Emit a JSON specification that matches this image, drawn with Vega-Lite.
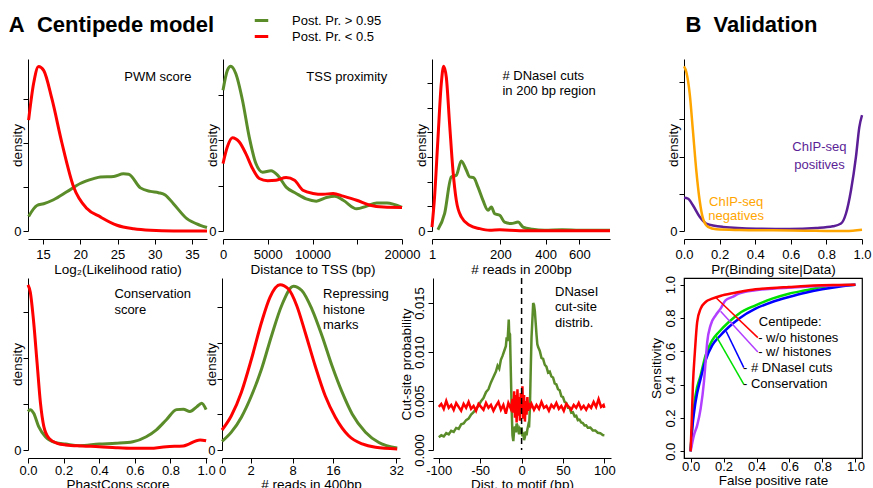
{
"$schema":"https://vega.github.io/schema/vega-lite/v6.json",
"background":"white",
"padding":{"left":8,"top":12,"right":0,"bottom":0},
"config":{
 "font":"Liberation Sans",
 "view":{"stroke":null},
 "axis":{"grid":false,"domainColor":"#000","domainWidth":1,"tickColor":"#000","tickWidth":1,"tickSize":5,"labelColor":"#000","labelFontSize":13,"labelFont":"Liberation Sans","titleFont":"Liberation Sans","titleFontSize":13.5,"titleFontWeight":"normal","titleColor":"#000","labelOverlap":false,"labelFlush":false,"labelBound":false},
 "axisX":{"offset":8,"labelPadding":4,"titlePadding":1},
 "axisY":{"labelPadding":2,"titlePadding":-11},
 "title":{"font":"Liberation Sans","fontSize":22,"fontWeight":"bold","anchor":"start","color":"#000"},
 "text":{"font":"Liberation Sans","fontSize":13,"color":"#000"}
},
"datasets":{
 "pwm":[
  {"s":"hi","x":13.08,"y":0.33},{"s":"hi","x":14.2,"y":0.58},{"s":"hi","x":15.1,"y":0.62},{"s":"hi","x":16.43,"y":0.71},{"s":"hi","x":18.2,"y":0.89},{"s":"hi","x":20.0,"y":1.08},{"s":"hi","x":21.8,"y":1.19},{"s":"hi","x":22.7,"y":1.23},{"s":"hi","x":24.5,"y":1.24},{"s":"hi","x":25.8,"y":1.30},{"s":"hi","x":26.5,"y":1.29},{"s":"hi","x":28.07,"y":0.98},{"s":"hi","x":29.4,"y":0.90},{"s":"hi","x":30.5,"y":0.87},{"s":"hi","x":31.4,"y":0.82},{"s":"hi","x":32.5,"y":0.62},{"s":"hi","x":34.3,"y":0.28},{"s":"hi","x":36.1,"y":0.13},{"s":"hi","x":37.0,"y":0.08},
  {"s":"lo","x":13.08,"y":2.52},{"s":"lo","x":13.75,"y":3.35},{"s":"lo","x":14.42,"y":3.74},{"s":"lo","x":15.1,"y":3.65},{"s":"lo","x":16.21,"y":3.0},{"s":"lo","x":17.55,"y":2.0},{"s":"lo","x":19.12,"y":1.0},{"s":"lo","x":20.9,"y":0.51},{"s":"lo","x":22.7,"y":0.32},{"s":"lo","x":24.93,"y":0.13},{"s":"lo","x":27.17,"y":0.05},{"s":"lo","x":29.4,"y":0.015},{"s":"lo","x":32.5,"y":0.0},{"s":"lo","x":37.0,"y":0.0}
 ],
 "tss":[
  {"s":"hi","x":0,"y":3.11},{"s":"hi","x":488,"y":3.55},{"s":"hi","x":863,"y":3.64},{"s":"hi","x":1426,"y":3.48},{"s":"hi","x":2176,"y":2.89},{"s":"hi","x":2927,"y":2.08},{"s":"hi","x":3677,"y":1.49},{"s":"hi","x":4427,"y":1.30},{"s":"hi","x":5365,"y":1.33},{"s":"hi","x":6116,"y":1.23},{"s":"hi","x":7054,"y":0.97},{"s":"hi","x":8179,"y":0.83},{"s":"hi","x":9305,"y":0.71},{"s":"hi","x":10430,"y":0.66},{"s":"hi","x":11556,"y":0.74},{"s":"hi","x":12494,"y":0.77},{"s":"hi","x":13432,"y":0.68},{"s":"hi","x":14933,"y":0.49},{"s":"hi","x":16059,"y":0.55},{"s":"hi","x":17185,"y":0.62},{"s":"hi","x":18310,"y":0.62},{"s":"hi","x":20000,"y":0.52},
  {"s":"lo","x":0,"y":1.49},{"s":"lo","x":488,"y":1.86},{"s":"lo","x":1051,"y":2.06},{"s":"lo","x":1801,"y":1.97},{"s":"lo","x":2551,"y":1.71},{"s":"lo","x":3302,"y":1.38},{"s":"lo","x":4052,"y":1.16},{"s":"lo","x":4990,"y":1.11},{"s":"lo","x":5928,"y":1.12},{"s":"lo","x":7054,"y":1.18},{"s":"lo","x":7992,"y":1.12},{"s":"lo","x":8930,"y":0.90},{"s":"lo","x":10055,"y":0.83},{"s":"lo","x":11181,"y":0.81},{"s":"lo","x":12307,"y":0.83},{"s":"lo","x":13432,"y":0.77},{"s":"lo","x":14933,"y":0.68},{"s":"lo","x":16434,"y":0.57},{"s":"lo","x":17935,"y":0.53},{"s":"lo","x":20000,"y":0.52}
 ],
 "dnase":[
  {"s":"hi","x":14.4,"y":0.05},{"s":"hi","x":30.5,"y":0.70},{"s":"hi","x":47.4,"y":2.19},{"s":"hi","x":60.6,"y":2.26},{"s":"hi","x":74.2,"y":2.84},{"s":"hi","x":88.6,"y":2.46},{"s":"hi","x":98.1,"y":2.19},{"s":"hi","x":110,"y":2.16},{"s":"hi","x":123.7,"y":1.78},{"s":"hi","x":139.7,"y":1.24},{"s":"hi","x":156.6,"y":0.84},{"s":"hi","x":168,"y":0.97},{"s":"hi","x":179.7,"y":0.70},{"s":"hi","x":198,"y":0.64},{"s":"hi","x":216,"y":0.36},{"s":"hi","x":242,"y":0.30},{"s":"hi","x":271,"y":0.36},{"s":"hi","x":292,"y":0.16},{"s":"hi","x":335,"y":0.07},{"s":"hi","x":395,"y":0.03},{"s":"hi","x":492,"y":0.05},{"s":"hi","x":604,"y":0.03},{"s":"hi","x":830,"y":0.03},
  {"s":"lo","x":1,"y":0.16},{"s":"lo","x":6.8,"y":1.38},{"s":"lo","x":14.4,"y":3.68},{"s":"lo","x":22.5,"y":5.97},{"s":"lo","x":28.1,"y":6.68},{"s":"lo","x":34.7,"y":6.24},{"s":"lo","x":43,"y":4.35},{"s":"lo","x":51.7,"y":2.46},{"s":"lo","x":60.6,"y":1.24},{"s":"lo","x":74.2,"y":0.57},{"s":"lo","x":98.1,"y":0.23},{"s":"lo","x":129,"y":0.095},{"s":"lo","x":162,"y":0.03},{"s":"lo","x":198,"y":0.05},{"s":"lo","x":278,"y":0.01},{"s":"lo","x":400,"y":0.01},{"s":"lo","x":600,"y":0.01},{"s":"lo","x":830,"y":0.01}
 ],
 "pb1":[
  {"s":"pos","x":0,"y":0.89},{"s":"pos","x":0.022,"y":0.87},{"s":"pos","x":0.05,"y":0.69},{"s":"pos","x":0.088,"y":0.38},{"s":"pos","x":0.125,"y":0.2},{"s":"pos","x":0.219,"y":0.11},{"s":"pos","x":0.406,"y":0.063},{"s":"pos","x":0.593,"y":0.054},{"s":"pos","x":0.742,"y":0.08},{"s":"pos","x":0.836,"y":0.125},{"s":"pos","x":0.882,"y":0.2},{"s":"pos","x":0.91,"y":0.47},{"s":"pos","x":0.938,"y":1.09},{"s":"pos","x":0.966,"y":1.99},{"s":"pos","x":0.985,"y":2.79},{"s":"pos","x":1.0,"y":3.11},
  {"s":"neg","x":0,"y":4.42},{"s":"neg","x":0.013,"y":4.27},{"s":"neg","x":0.032,"y":3.69},{"s":"neg","x":0.05,"y":2.70},{"s":"neg","x":0.069,"y":1.63},{"s":"neg","x":0.088,"y":0.82},{"s":"neg","x":0.107,"y":0.33},{"s":"neg","x":0.135,"y":0.11},{"s":"neg","x":0.181,"y":0.045},{"s":"neg","x":0.312,"y":0.027},{"s":"neg","x":0.499,"y":0.018},{"s":"neg","x":0.686,"y":0.009},{"s":"neg","x":0.836,"y":0.0},{"s":"neg","x":0.91,"y":0.0},{"s":"neg","x":1.0,"y":0.036}
 ],
 "cons":[
  {"s":"hi","x":0,"y":0.84},{"s":"hi","x":0.013,"y":0.88},{"s":"hi","x":0.032,"y":0.80},{"s":"hi","x":0.06,"y":0.51},{"s":"hi","x":0.098,"y":0.29},{"s":"hi","x":0.155,"y":0.16},{"s":"hi","x":0.211,"y":0.13},{"s":"hi","x":0.287,"y":0.095},{"s":"hi","x":0.4,"y":0.13},{"s":"hi","x":0.494,"y":0.146},{"s":"hi","x":0.589,"y":0.18},{"s":"hi","x":0.664,"y":0.29},{"s":"hi","x":0.721,"y":0.44},{"s":"hi","x":0.777,"y":0.66},{"s":"hi","x":0.834,"y":0.88},{"s":"hi","x":0.872,"y":0.89},{"s":"hi","x":0.909,"y":0.84},{"s":"hi","x":0.947,"y":0.94},{"s":"hi","x":0.975,"y":1.02},{"s":"hi","x":1.0,"y":0.88},
  {"s":"lo","x":0,"y":3.60},{"s":"lo","x":0.013,"y":3.44},{"s":"lo","x":0.032,"y":2.78},{"s":"lo","x":0.051,"y":1.90},{"s":"lo","x":0.07,"y":1.02},{"s":"lo","x":0.089,"y":0.51},{"s":"lo","x":0.117,"y":0.26},{"s":"lo","x":0.164,"y":0.146},{"s":"lo","x":0.211,"y":0.11},{"s":"lo","x":0.306,"y":0.088},{"s":"lo","x":0.4,"y":0.073},{"s":"lo","x":0.494,"y":0.05},{"s":"lo","x":0.589,"y":0.037},{"s":"lo","x":0.683,"y":0.037},{"s":"lo","x":0.777,"y":0.073},{"s":"lo","x":0.872,"y":0.088},{"s":"lo","x":0.966,"y":0.22},{"s":"lo","x":1.0,"y":0.2}
 ],
 "hist":[
  {"s":"hi","x":0,"y":0.24},{"s":"hi","x":0.355,"y":0.50},{"s":"hi","x":1.094,"y":0.92},{"s":"hi","x":2.08,"y":1.52},{"s":"hi","x":3.27,"y":2.27},{"s":"hi","x":4.64,"y":3.21},{"s":"hi","x":6.16,"y":4.05},{"s":"hi","x":8.12,"y":4.59},{"s":"hi","x":9.63,"y":4.47},{"s":"hi","x":11.57,"y":3.95},{"s":"hi","x":13.61,"y":3.21},{"s":"hi","x":15.79,"y":2.36},{"s":"hi","x":18.07,"y":1.62},{"s":"hi","x":20.45,"y":1.01},{"s":"hi","x":23.76,"y":0.50},{"s":"hi","x":27.25,"y":0.21},{"s":"hi","x":32.3,"y":0.056},
  {"s":"lo","x":0,"y":0.56},{"s":"lo","x":0.355,"y":0.96},{"s":"lo","x":1.094,"y":1.62},{"s":"lo","x":2.08,"y":2.55},{"s":"lo","x":3.27,"y":3.58},{"s":"lo","x":4.40,"y":4.28},{"s":"lo","x":5.90,"y":4.63},{"s":"lo","x":7.27,"y":4.51},{"s":"lo","x":8.70,"y":4.05},{"s":"lo","x":10.26,"y":3.30},{"s":"lo","x":12.22,"y":2.36},{"s":"lo","x":14.31,"y":1.52},{"s":"lo","x":16.53,"y":0.92},{"s":"lo","x":19.61,"y":0.40},{"s":"lo","x":22.93,"y":0.17},{"s":"lo","x":26.37,"y":0.075},{"s":"lo","x":32.3,"y":0.03}
 ],
 "cut":[
  {"s":"hi","x":-100,"y":0.00130},{"s":"hi","x":-97,"y":0.00150},{"s":"hi","x":-94,"y":0.00138},{"s":"hi","x":-91,"y":0.00172},{"s":"hi","x":-88,"y":0.00160},{"s":"hi","x":-85,"y":0.00195},{"s":"hi","x":-82,"y":0.00185},{"s":"hi","x":-79,"y":0.00225},{"s":"hi","x":-76,"y":0.00215},{"s":"hi","x":-73,"y":0.00262},{"s":"hi","x":-70,"y":0.00270},{"s":"hi","x":-67,"y":0.00305},{"s":"hi","x":-64,"y":0.00320},{"s":"hi","x":-61,"y":0.00362},{"s":"hi","x":-58,"y":0.00385},{"s":"hi","x":-55,"y":0.00420},{"s":"hi","x":-52,"y":0.00452},{"s":"hi","x":-49,"y":0.00498},{"s":"hi","x":-46,"y":0.00530},{"s":"hi","x":-43,"y":0.00590},{"s":"hi","x":-40,"y":0.00620},{"s":"hi","x":-37,"y":0.00690},{"s":"hi","x":-34,"y":0.00745},{"s":"hi","x":-31,"y":0.00800},{"s":"hi","x":-29,"y":0.00860},{"s":"hi","x":-27,"y":0.00830},{"s":"hi","x":-25,"y":0.00920},{"s":"hi","x":-23,"y":0.00960},{"s":"hi","x":-21,"y":0.01010},{"s":"hi","x":-19,"y":0.01060},{"s":"hi","x":-18,"y":0.01150},{"s":"hi","x":-17,"y":0.01110},{"s":"hi","x":-16,"y":0.01250},{"s":"hi","x":-15.5,"y":0.01330},{"s":"hi","x":-15,"y":0.01200},{"s":"hi","x":-14,"y":0.01180},{"s":"hi","x":-13,"y":0.00800},{"s":"hi","x":-12,"y":0.00420},{"s":"hi","x":-11,"y":0.00150},{"s":"hi","x":-10,"y":0.00090},{"s":"hi","x":-9,"y":0.00200},{"s":"hi","x":-8,"y":0.00240},{"s":"hi","x":-7,"y":0.00180},{"s":"hi","x":-6,"y":0.00270},{"s":"hi","x":-5,"y":0.00250},{"s":"hi","x":-4,"y":0.00200},{"s":"hi","x":-3,"y":0.00160},{"s":"hi","x":-2,"y":0.00210},{"s":"hi","x":-1,"y":0.00190},{"s":"hi","x":0,"y":0.00230},{"s":"hi","x":1,"y":0.00140},{"s":"hi","x":2,"y":0.00180},{"s":"hi","x":3,"y":0.00100},{"s":"hi","x":4,"y":0.00130},{"s":"hi","x":5,"y":0.00190},{"s":"hi","x":6,"y":0.00150},{"s":"hi","x":7,"y":0.00210},{"s":"hi","x":8,"y":0.00250},{"s":"hi","x":9,"y":0.00230},{"s":"hi","x":10,"y":0.00420},{"s":"hi","x":11,"y":0.00800},{"s":"hi","x":12,"y":0.01150},{"s":"hi","x":13,"y":0.01320},{"s":"hi","x":14,"y":0.01500},{"s":"hi","x":15,"y":0.01480},{"s":"hi","x":16,"y":0.01420},{"s":"hi","x":17,"y":0.01300},{"s":"hi","x":18,"y":0.01180},{"s":"hi","x":19,"y":0.01080},{"s":"hi","x":20,"y":0.01050},{"s":"hi","x":22,"y":0.01010},{"s":"hi","x":24,"y":0.00940},{"s":"hi","x":26,"y":0.00930},{"s":"hi","x":28,"y":0.00870},{"s":"hi","x":30,"y":0.00850},{"s":"hi","x":32,"y":0.00790},{"s":"hi","x":34,"y":0.00800},{"s":"hi","x":36,"y":0.00750},{"s":"hi","x":38,"y":0.00740},{"s":"hi","x":40,"y":0.00680},{"s":"hi","x":42,"y":0.00670},{"s":"hi","x":44,"y":0.00620},{"s":"hi","x":46,"y":0.00610},{"s":"hi","x":48,"y":0.00550},{"s":"hi","x":50,"y":0.00540},{"s":"hi","x":52,"y":0.00490},{"s":"hi","x":54,"y":0.00480},{"s":"hi","x":56,"y":0.00430},{"s":"hi","x":58,"y":0.00430},{"s":"hi","x":60,"y":0.00380},{"s":"hi","x":62,"y":0.00385},{"s":"hi","x":64,"y":0.00345},{"s":"hi","x":66,"y":0.00350},{"s":"hi","x":68,"y":0.00305},{"s":"hi","x":70,"y":0.00310},{"s":"hi","x":72,"y":0.00280},{"s":"hi","x":74,"y":0.00275},{"s":"hi","x":76,"y":0.00250},{"s":"hi","x":78,"y":0.00252},{"s":"hi","x":80,"y":0.00228},{"s":"hi","x":83,"y":0.00230},{"s":"hi","x":86,"y":0.00200},{"s":"hi","x":89,"y":0.00200},{"s":"hi","x":92,"y":0.00176},{"s":"hi","x":95,"y":0.00172},{"s":"hi","x":98,"y":0.00152},{"s":"hi","x":100,"y":0.00150},
  {"s":"lo","x":-100,"y":0.00440},{"s":"lo","x":-97,"y":0.00470},{"s":"lo","x":-94,"y":0.00420},{"s":"lo","x":-91,"y":0.00500},{"s":"lo","x":-88,"y":0.00430},{"s":"lo","x":-85,"y":0.00460},{"s":"lo","x":-82,"y":0.00410},{"s":"lo","x":-79,"y":0.00480},{"s":"lo","x":-76,"y":0.00440},{"s":"lo","x":-73,"y":0.00400},{"s":"lo","x":-70,"y":0.00470},{"s":"lo","x":-67,"y":0.00430},{"s":"lo","x":-64,"y":0.00490},{"s":"lo","x":-61,"y":0.00420},{"s":"lo","x":-58,"y":0.00450},{"s":"lo","x":-55,"y":0.00400},{"s":"lo","x":-52,"y":0.00470},{"s":"lo","x":-49,"y":0.00440},{"s":"lo","x":-46,"y":0.00410},{"s":"lo","x":-43,"y":0.00480},{"s":"lo","x":-40,"y":0.00430},{"s":"lo","x":-37,"y":0.00460},{"s":"lo","x":-34,"y":0.00400},{"s":"lo","x":-31,"y":0.00450},{"s":"lo","x":-28,"y":0.00490},{"s":"lo","x":-25,"y":0.00410},{"s":"lo","x":-22,"y":0.00460},{"s":"lo","x":-19,"y":0.00370},{"s":"lo","x":-16,"y":0.00480},{"s":"lo","x":-13,"y":0.00420},{"s":"lo","x":-11,"y":0.00520},{"s":"lo","x":-10,"y":0.00380},{"s":"lo","x":-9,"y":0.00600},{"s":"lo","x":-8,"y":0.00330},{"s":"lo","x":-7,"y":0.00560},{"s":"lo","x":-6,"y":0.00280},{"s":"lo","x":-5,"y":0.00620},{"s":"lo","x":-4,"y":0.00350},{"s":"lo","x":-3,"y":0.00540},{"s":"lo","x":-2,"y":0.00300},{"s":"lo","x":-1,"y":0.00580},{"s":"lo","x":0,"y":0.00400},{"s":"lo","x":1,"y":0.00650},{"s":"lo","x":2,"y":0.00320},{"s":"lo","x":3,"y":0.00560},{"s":"lo","x":4,"y":0.00290},{"s":"lo","x":5,"y":0.00500},{"s":"lo","x":6,"y":0.00360},{"s":"lo","x":7,"y":0.00540},{"s":"lo","x":8,"y":0.00400},{"s":"lo","x":9,"y":0.00480},{"s":"lo","x":10,"y":0.00420},{"s":"lo","x":12,"y":0.00470},{"s":"lo","x":15,"y":0.00410},{"s":"lo","x":18,"y":0.00460},{"s":"lo","x":21,"y":0.00420},{"s":"lo","x":24,"y":0.00490},{"s":"lo","x":27,"y":0.00430},{"s":"lo","x":30,"y":0.00450},{"s":"lo","x":33,"y":0.00400},{"s":"lo","x":36,"y":0.00460},{"s":"lo","x":39,"y":0.00430},{"s":"lo","x":42,"y":0.00480},{"s":"lo","x":45,"y":0.00420},{"s":"lo","x":48,"y":0.00450},{"s":"lo","x":51,"y":0.00400},{"s":"lo","x":54,"y":0.00470},{"s":"lo","x":57,"y":0.00440},{"s":"lo","x":60,"y":0.00410},{"s":"lo","x":63,"y":0.00460},{"s":"lo","x":66,"y":0.00430},{"s":"lo","x":69,"y":0.00480},{"s":"lo","x":72,"y":0.00420},{"s":"lo","x":75,"y":0.00450},{"s":"lo","x":78,"y":0.00410},{"s":"lo","x":81,"y":0.00460},{"s":"lo","x":84,"y":0.00430},{"s":"lo","x":87,"y":0.00490},{"s":"lo","x":90,"y":0.00440},{"s":"lo","x":93,"y":0.00520},{"s":"lo","x":96,"y":0.00440},{"s":"lo","x":99,"y":0.00460},{"s":"lo","x":100,"y":0.00430}
 ],
 "roc":[
  {"s":"g","x":0,"y":0},{"s":"g","x":0.01,"y":0.156},{"s":"g","x":0.03,"y":0.336},{"s":"g","x":0.061,"y":0.456},{"s":"g","x":0.091,"y":0.576},{"s":"g","x":0.131,"y":0.666},{"s":"g","x":0.172,"y":0.716},{"s":"g","x":0.232,"y":0.776},{"s":"g","x":0.293,"y":0.826},{"s":"g","x":0.394,"y":0.876},{"s":"g","x":0.495,"y":0.916},{"s":"g","x":0.596,"y":0.946},{"s":"g","x":0.697,"y":0.966},{"s":"g","x":0.798,"y":0.986},{"s":"g","x":0.899,"y":0.996},{"s":"g","x":1,"y":1},
  {"s":"b","x":0,"y":0},{"s":"b","x":0.01,"y":0.136},{"s":"b","x":0.03,"y":0.296},{"s":"b","x":0.061,"y":0.436},{"s":"b","x":0.091,"y":0.546},{"s":"b","x":0.131,"y":0.636},{"s":"b","x":0.172,"y":0.686},{"s":"b","x":0.232,"y":0.746},{"s":"b","x":0.293,"y":0.796},{"s":"b","x":0.394,"y":0.856},{"s":"b","x":0.495,"y":0.896},{"s":"b","x":0.596,"y":0.926},{"s":"b","x":0.697,"y":0.952},{"s":"b","x":0.798,"y":0.972},{"s":"b","x":0.899,"y":0.988},{"s":"b","x":1,"y":1},
  {"s":"p","x":0,"y":0},{"s":"p","x":0.02,"y":0.096},{"s":"p","x":0.04,"y":0.156},{"s":"p","x":0.061,"y":0.256},{"s":"p","x":0.081,"y":0.416},{"s":"p","x":0.091,"y":0.536},{"s":"p","x":0.101,"y":0.656},{"s":"p","x":0.121,"y":0.756},{"s":"p","x":0.152,"y":0.816},{"s":"p","x":0.182,"y":0.856},{"s":"p","x":0.212,"y":0.906},{"s":"p","x":0.253,"y":0.926},{"s":"p","x":0.293,"y":0.946},{"s":"p","x":0.394,"y":0.966},{"s":"p","x":0.495,"y":0.976},{"s":"p","x":0.697,"y":0.988},{"s":"p","x":0.899,"y":0.996},{"s":"p","x":1,"y":1},
  {"s":"r","x":0,"y":0},{"s":"r","x":0.006,"y":0.156},{"s":"r","x":0.014,"y":0.396},{"s":"r","x":0.026,"y":0.596},{"s":"r","x":0.04,"y":0.776},{"s":"r","x":0.061,"y":0.856},{"s":"r","x":0.091,"y":0.896},{"s":"r","x":0.131,"y":0.916},{"s":"r","x":0.192,"y":0.936},{"s":"r","x":0.293,"y":0.956},{"s":"r","x":0.394,"y":0.972},{"s":"r","x":0.495,"y":0.98},{"s":"r","x":0.596,"y":0.986},{"s":"r","x":0.697,"y":0.992},{"s":"r","x":0.798,"y":0.996},{"s":"r","x":0.899,"y":0.998},{"s":"r","x":1,"y":1}
 ],
 "ptr":[
  {"s":"r","x":0.156,"y":0.92,"x2":0.408,"y2":0.682},
  {"s":"p","x":0.182,"y":0.84,"x2":0.408,"y2":0.596},
  {"s":"b","x":0.216,"y":0.72,"x2":0.323,"y2":0.502},
  {"s":"g","x":0.156,"y":0.69,"x2":0.323,"y2":0.402}
 ]
},
"spacing":32,
"hconcat":[
 {"title":{"text":"A\u00a0\u00a0Centipede model","dx":-2,"offset":22},
  "spacing":1,
  "vconcat":[
   {"spacing":-7,"hconcat":[
     {"spacing":-8,"hconcat":[
       {"width":179,"height":172,
        "encoding":{
         "x":{"field":"x","type":"quantitative","scale":{"domain":[13,37],"nice":false,"zero":false},"axis":{"title":"Log₂(Likelihood ratio)","values":[15,20,25,30,35]}},
         "y":{"field":"y","type":"quantitative","scale":{"domain":[0,3.909],"nice":false,"zero":false},"axis":{"title":"density","values":[0,1,2,3],"labelExpr":"datum.value == 0 ? '0' : ''"}}},
        "layer":[
         {"data":{"name":"pwm"},"mark":{"type":"line","strokeWidth":3,"interpolate":"monotone"},
          "encoding":{"color":{"field":"s","type":"nominal","scale":{"domain":["hi","lo","neg","pos","r","p","b","g"],"range":["#5B8C2A","#FF0000","#FFA500","#5B1E96","#FF0000","#B23EFF","#0000FF","#00E000"]},
           "legend":{"values":["hi","lo"],"orient":"none","legendX":225,"legendY":-47,"title":null,"labelExpr":"datum.value == 'hi' ? 'Post. Pr. > 0.95' : 'Post. Pr. < 0.5'","symbolType":"stroke","symbolStrokeWidth":3,"symbolSize":182,"labelFontSize":13,"labelFont":"Liberation Sans","labelColor":"#000","rowPadding":-3,"labelOffset":22}}}},
         {"data":{"values":[{"x":25.9,"y":3.5,"t":"PWM score"}]},"mark":{"type":"text","align":"left","baseline":"middle","fontSize":13},"encoding":{"text":{"field":"t"}}}
        ]},
       {"width":179,"height":172,
        "encoding":{
         "x":{"field":"x","type":"quantitative","scale":{"domain":[0,20000],"nice":false,"zero":false},"axis":{"title":"Distance to TSS (bp)","values":[0,5000,10000,15000,20000],"labelExpr":"datum.value == 15000 ? '' : '' + datum.value"}},
         "y":{"field":"y","type":"quantitative","scale":{"domain":[0,3.80],"nice":false,"zero":false},"axis":{"title":"density","values":[0,1,2,3],"labelExpr":"datum.value == 0 ? '0' : ''"}}},
        "layer":[
         {"data":{"name":"tss"},"mark":{"type":"line","strokeWidth":3,"interpolate":"monotone"},
          "encoding":{"color":{"field":"s","type":"nominal","scale":{"domain":["hi","lo","neg","pos","r","p","b","g"],"range":["#5B8C2A","#FF0000","#FFA500","#5B1E96","#FF0000","#B23EFF","#0000FF","#00E000"]}}}},
         {"data":{"values":[{"x":9305,"y":3.4,"t":"TSS proximity"}]},"mark":{"type":"text","align":"left","baseline":"middle","fontSize":13},"encoding":{"text":{"field":"t"}}}
        ]}
     ]},
     {"width":178,"height":172,
      "encoding":{
       "x":{"field":"x","type":"quantitative","scale":{"type":"symlog","constant":300,"domain":[1,830],"nice":false,"zero":false},"axis":{"title":"# reads in 200bp","values":[1,200,400,600],"labelExpr":"'' + datum.value"}},
       "y":{"field":"y","type":"quantitative","scale":{"domain":[0,6.97],"nice":false,"zero":false},"axis":{"title":"density","values":[0,1,2,3,4,5,6],"labelExpr":"datum.value == 0 ? '0' : ''"}}},
      "layer":[
       {"data":{"name":"dnase"},"mark":{"type":"line","strokeWidth":3,"interpolate":"monotone"},
        "encoding":{"color":{"field":"s","type":"nominal","scale":{"domain":["hi","lo","neg","pos","r","p","b","g"],"range":["#5B8C2A","#FF0000","#FFA500","#5B1E96","#FF0000","#B23EFF","#0000FF","#00E000"]}}}},
       {"data":{"values":[{"x":208,"y":6.53,"t":["# DNaseI cuts","in 200 bp region"]}]},"mark":{"type":"text","align":"left","baseline":"top","fontSize":13,"lineHeight":15},"encoding":{"text":{"field":"t"}}}
      ]}
   ]},
   {"spacing":-5,"hconcat":[
     {"spacing":-12,"hconcat":[
       {"width":179,"height":172,
        "encoding":{
         "x":{"field":"x","type":"quantitative","scale":{"domain":[0,1.005],"nice":false,"zero":false},"axis":{"title":"PhastCons score","values":[0,0.2,0.4,0.6,0.8,1],"format":".1f","labelPadding":1,"titlePadding":0}},
         "y":{"field":"y","type":"quantitative","scale":{"domain":[0,3.75],"nice":false,"zero":false},"axis":{"title":"density","values":[0,1,2,3],"labelExpr":"datum.value == 0 ? '0' : ''"}}},
        "layer":[
         {"data":{"name":"cons"},"mark":{"type":"line","strokeWidth":3,"interpolate":"monotone"},
          "encoding":{"color":{"field":"s","type":"nominal","scale":{"domain":["hi","lo","neg","pos","r","p","b","g"],"range":["#5B8C2A","#FF0000","#FFA500","#5B1E96","#FF0000","#B23EFF","#0000FF","#00E000"]}}}},
         {"data":{"values":[{"x":0.485,"y":3.54,"t":["Conservation","score"]}]},"mark":{"type":"text","align":"left","baseline":"top","fontSize":13,"lineHeight":16.7},"encoding":{"text":{"field":"t"}}}
        ]},
       {"width":178,"height":172,
        "encoding":{
         "x":{"field":"x","type":"quantitative","scale":{"type":"pow","exponent":0.65,"domain":[0,33.1],"nice":false,"zero":false},"axis":{"title":"# reads in 400bp","values":[0,2,8,16,32],"labelPadding":1,"titlePadding":0}},
         "y":{"field":"y","type":"quantitative","scale":{"domain":[0,4.82],"nice":false,"zero":false},"axis":{"title":"density","values":[0,1,2,3,4],"labelExpr":"datum.value == 0 ? '0' : ''"}}},
        "layer":[
         {"data":{"name":"hist"},"mark":{"type":"line","strokeWidth":3,"interpolate":"monotone"},
          "encoding":{"color":{"field":"s","type":"nominal","scale":{"domain":["hi","lo","neg","pos","r","p","b","g"],"range":["#5B8C2A","#FF0000","#FFA500","#5B1E96","#FF0000","#B23EFF","#0000FF","#00E000"]}}}},
         {"data":{"values":[{"x":13.85,"y":4.53,"t":["Repressing","histone","marks"]}]},"mark":{"type":"text","align":"left","baseline":"top","fontSize":13,"lineHeight":15.5},"encoding":{"text":{"field":"t"}}}
        ]}
     ]},
     {"width":178,"height":172,
      "encoding":{
       "x":{"field":"x","type":"quantitative","scale":{"domain":[-107,108],"nice":false,"zero":false},"axis":{"title":"Dist. to motif (bp)","values":[-100,-50,0,50,100],"labelExpr":"datum.value < 0 ? '-' + abs(datum.value) : '' + datum.value","labelPadding":1,"titlePadding":0}}},
      "layer":[
       {"data":{"name":"cut"},"mark":{"type":"line","strokeWidth":2.5},
        "encoding":{
         "y":{"field":"y","type":"quantitative","scale":{"domain":[0,0.01755],"nice":false,"zero":false},"axis":{"title":"Cut-site probability","values":[0,0.005,0.01,0.015],"format":".3f","labelAngle":-90,"labelAlign":"center","labelBaseline":"bottom","titlePadding":0}},
         "color":{"field":"s","type":"nominal","scale":{"domain":["hi","lo","neg","pos","r","p","b","g"],"range":["#5B8C2A","#FF0000","#FFA500","#5B1E96","#FF0000","#B23EFF","#0000FF","#00E000"]}}}},
       {"data":{"values":[{"x":0}]},"mark":{"type":"rule","strokeDash":[6,4],"strokeWidth":1.5,"color":"#000"},"encoding":{}},
       {"data":{"values":[{"x":40.4,"y":0.01676,"t":["DNaseI","cut-site","distrib."]}]},"mark":{"type":"text","align":"left","baseline":"top","fontSize":13,"lineHeight":15.7},"encoding":{"y":{"field":"y","type":"quantitative"},"text":{"field":"t"}}}
      ]}
   ]}
  ]},
 {"title":{"text":"B\u00a0\u00a0Validation","dx":37,"offset":22},
  "spacing":-1,
  "vconcat":[
   {"width":178,"height":172,
    "encoding":{
     "x":{"field":"x","type":"quantitative","scale":{"domain":[0,1],"nice":false,"zero":false},"axis":{"title":"Pr(Binding site|Data)","values":[0,0.2,0.4,0.6,0.8,1],"format":".1f"}},
     "y":{"field":"y","type":"quantitative","scale":{"domain":[0,4.62],"nice":false,"zero":false},"axis":{"title":"density","values":[0,1,2,3,4],"labelExpr":"datum.value == 0 ? '0' : ''"}}},
    "layer":[
     {"data":{"name":"pb1"},"mark":{"type":"line","strokeWidth":2.5,"interpolate":"monotone"},
      "encoding":{"color":{"field":"s","type":"nominal","scale":{"domain":["hi","lo","neg","pos","r","p","b","g"],"range":["#5B8C2A","#FF0000","#FFA500","#5B1E96","#FF0000","#B23EFF","#0000FF","#00E000"]}}}},
     {"data":{"values":[{"x":0.761,"y":2.43,"t":["ChIP-seq","positives"]}]},"mark":{"type":"text","align":"center","baseline":"top","fontSize":13,"lineHeight":18,"color":"#5B1E96"},"encoding":{"text":{"field":"t"}}},
     {"data":{"values":[{"x":0.293,"y":0.95,"t":["ChIP-seq","negatives"]}]},"mark":{"type":"text","align":"center","baseline":"top","fontSize":13,"lineHeight":14,"color":"#FFA500"},"encoding":{"text":{"field":"t"}}}
    ]},
   {"width":178,"height":180,
    "view":{"stroke":"#000","strokeWidth":1.2},
    "encoding":{
     "x":{"field":"x","type":"quantitative","scale":{"domain":[-0.04,1.04],"nice":false,"zero":false},"axis":{"title":"False positive rate","values":[0,0.2,0.4,0.6,0.8,1],"format":".1f","offset":0,"tickSize":4,"labelPadding":-2,"titlePadding":0}},
     "y":{"field":"y","type":"quantitative","scale":{"domain":[-0.04,1.04],"nice":false,"zero":false},"axis":{"title":"Sensitivity","values":[0,0.2,0.4,0.6,0.8,1],"format":".1f","labelAngle":-90,"labelAlign":"center","labelBaseline":"bottom","tickSize":4,"labelPadding":3,"titlePadding":1}}},
    "layer":[
     {"data":{"name":"roc"},"mark":{"type":"line","strokeWidth":2.5,"interpolate":"monotone"},
      "encoding":{"color":{"field":"s","type":"nominal","scale":{"domain":["hi","lo","neg","pos","r","p","b","g"],"range":["#5B8C2A","#FF0000","#FFA500","#5B1E96","#FF0000","#B23EFF","#0000FF","#00E000"]}}}},
     {"data":{"name":"ptr"},"mark":{"type":"rule","strokeWidth":1.5},
      "encoding":{"x2":{"field":"x2"},"y2":{"field":"y2"},"color":{"field":"s","type":"nominal","scale":{"domain":["hi","lo","neg","pos","r","p","b","g"],"range":["#5B8C2A","#FF0000","#FFA500","#5B1E96","#FF0000","#B23EFF","#0000FF","#00E000"]}}}},
     {"data":{"values":[{"x":0.414,"y":0.776,"t":"Centipede:"},{"x":0.41,"y":0.682,"t":"- w/o histones"},{"x":0.41,"y":0.596,"t":"- w/ histones"},{"x":0.318,"y":0.502,"t":"- # DNaseI cuts"},{"x":0.318,"y":0.402,"t":"- Conservation"}]},"mark":{"type":"text","align":"left","baseline":"middle","fontSize":13},"encoding":{"text":{"field":"t"}}}
    ]}
  ]}
]
}
